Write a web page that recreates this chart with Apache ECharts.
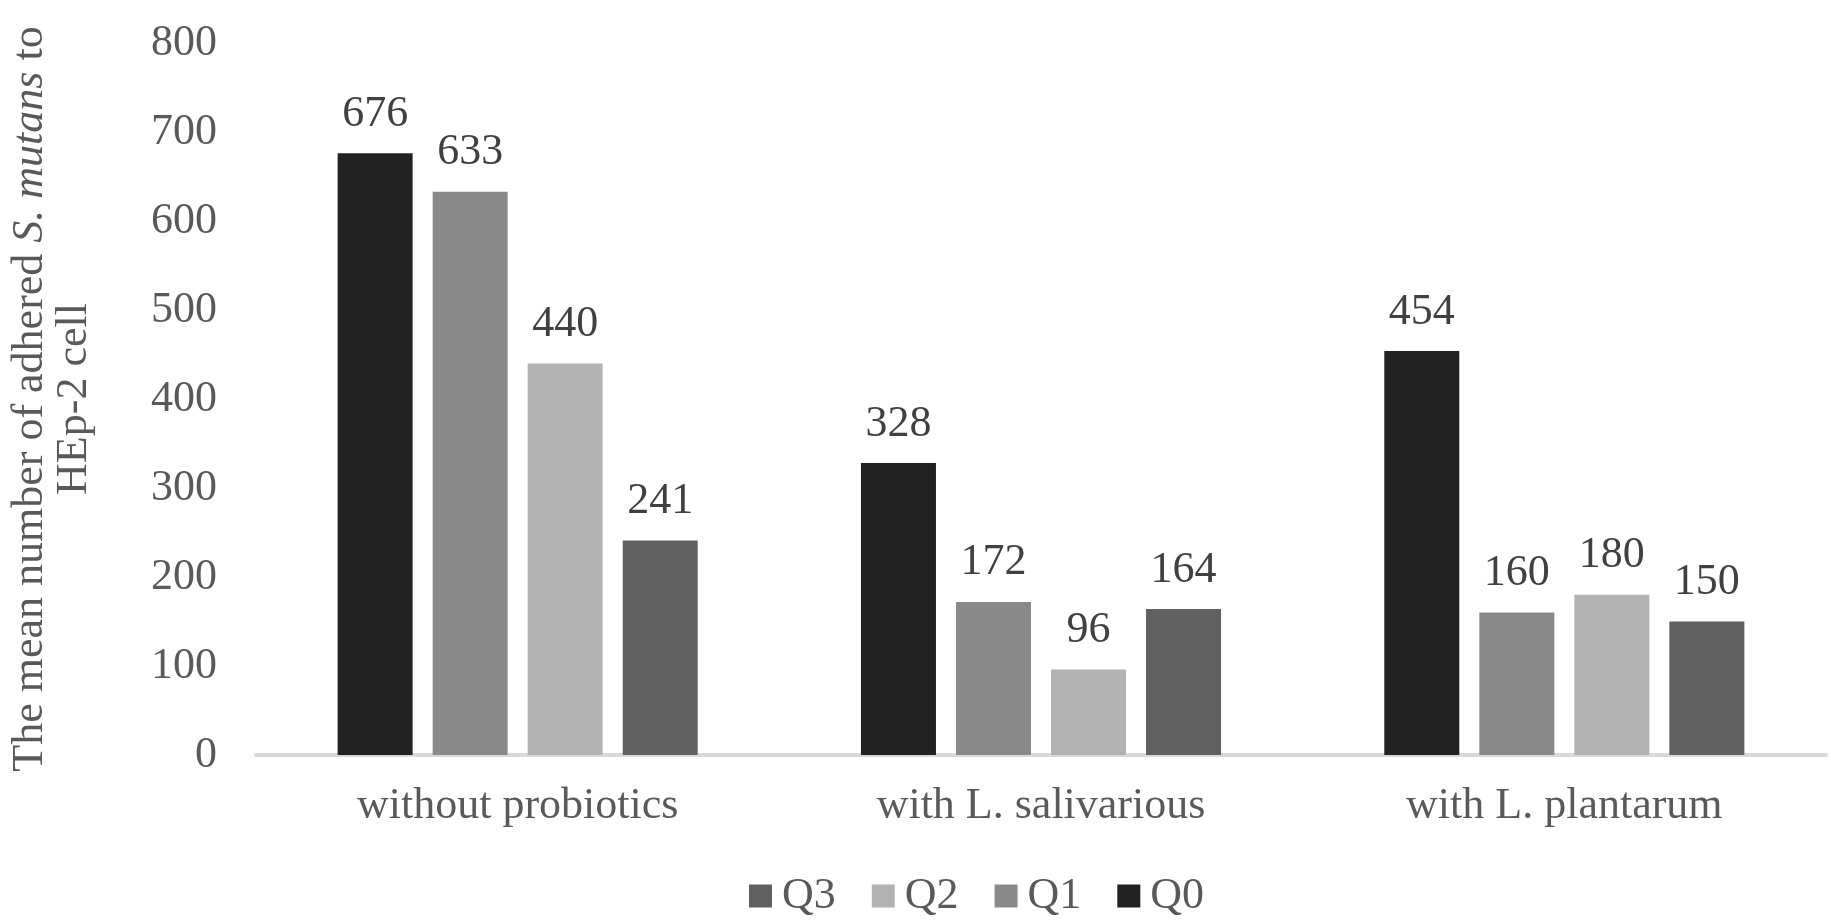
<!DOCTYPE html>
<html lang="en">
<head>
    <meta charset="UTF-8">
    <title>Adhered S. mutans per HEp-2 cell</title>
    <script src="https://cdn.jsdelivr.net/npm/echarts@6.0.0/dist/echarts.min.js"></script>
    <style>
        * { margin: 0; padding: 0; }
        html, body { width: 100%; height: 100%; background: #ffffff; }
        #chart { width: 1831px; height: 920px; }
    </style>
</head>
<body>
    <div id="chart"></div>

    <script>
        // data
        var categories = ['without probiotics', 'with L. salivarious', 'with L. plantarum'];
        var q0 = [676, 328, 454];
        var q1 = [633, 172, 160];
        var q2 = [440, 96, 180];
        var q3 = [241, 164, 150];
        var yTicks = [0, 100, 200, 300, 400, 500, 600, 700, 800];

        var serif = "'Liberation Serif', 'Times New Roman', serif";
        var textGrey = '#595959';
        var fs = 44;

        function barSeries(name, data, color) {
            return {
                name: name,
                type: 'bar',
                data: data,
                barWidth: 75,
                barGap: '26.7%',
                itemStyle: { color: color },
                label: {
                    show: true,
                    position: 'top',
                    distance: 17,
                    color: '#404040',
                    fontFamily: serif,
                    fontSize: fs
                }
            };
        }

        var chart = echarts.init(document.getElementById('chart'));
        chart.setOption({
            animation: false,
            backgroundColor: '#ffffff',
            grid: { left: 255, right: 5, top: 43, bottom: 165 },
            legend: {
                data: ['Q3', 'Q2', 'Q1', 'Q0'],
                left: 744,
                top: 869,
                icon: 'rect',
                itemWidth: 23,
                itemHeight: 23,
                itemGap: 36,
                textStyle: { color: textGrey, fontFamily: serif, fontSize: fs, padding: [0, 0, 0, 5] }
            },
            xAxis: {
                type: 'category',
                data: categories,
                axisLine: { lineStyle: { color: '#d9d9d9', width: 4 } },
                axisTick: { show: false },
                axisLabel: { color: textGrey, fontFamily: serif, fontSize: fs, margin: 29 }
            },
            yAxis: {
                type: 'value',
                min: yTicks[0],
                max: yTicks[yTicks.length - 1],
                interval: 100,
                splitLine: { show: false },
                axisLine: { show: false },
                axisTick: { show: false },
                axisLabel: { color: textGrey, fontFamily: serif, fontSize: fs, margin: 39 },
                name: '{a|The mean number of adhered }{i|S. mutans}{a| to}\n{a|HEp-2 cell}',
                nameLocation: 'middle',
                nameRotate: 90,
                nameGap: 160,
                nameTextStyle: {
                    color: textGrey,
                    fontFamily: serif,
                    fontSize: fs,
                    lineHeight: 44,
                    rich: {
                        a: { color: textGrey, fontFamily: serif, fontSize: fs, lineHeight: 44 },
                        i: { color: textGrey, fontFamily: serif, fontSize: fs, lineHeight: 44, fontStyle: 'italic' }
                    }
                }
            },
            series: [
                barSeries('Q0', q0, '#222222'),
                barSeries('Q1', q1, '#898989'),
                barSeries('Q2', q2, '#b2b2b2'),
                barSeries('Q3', q3, '#606060')
            ]
        });
    </script>
</body>
</html>
